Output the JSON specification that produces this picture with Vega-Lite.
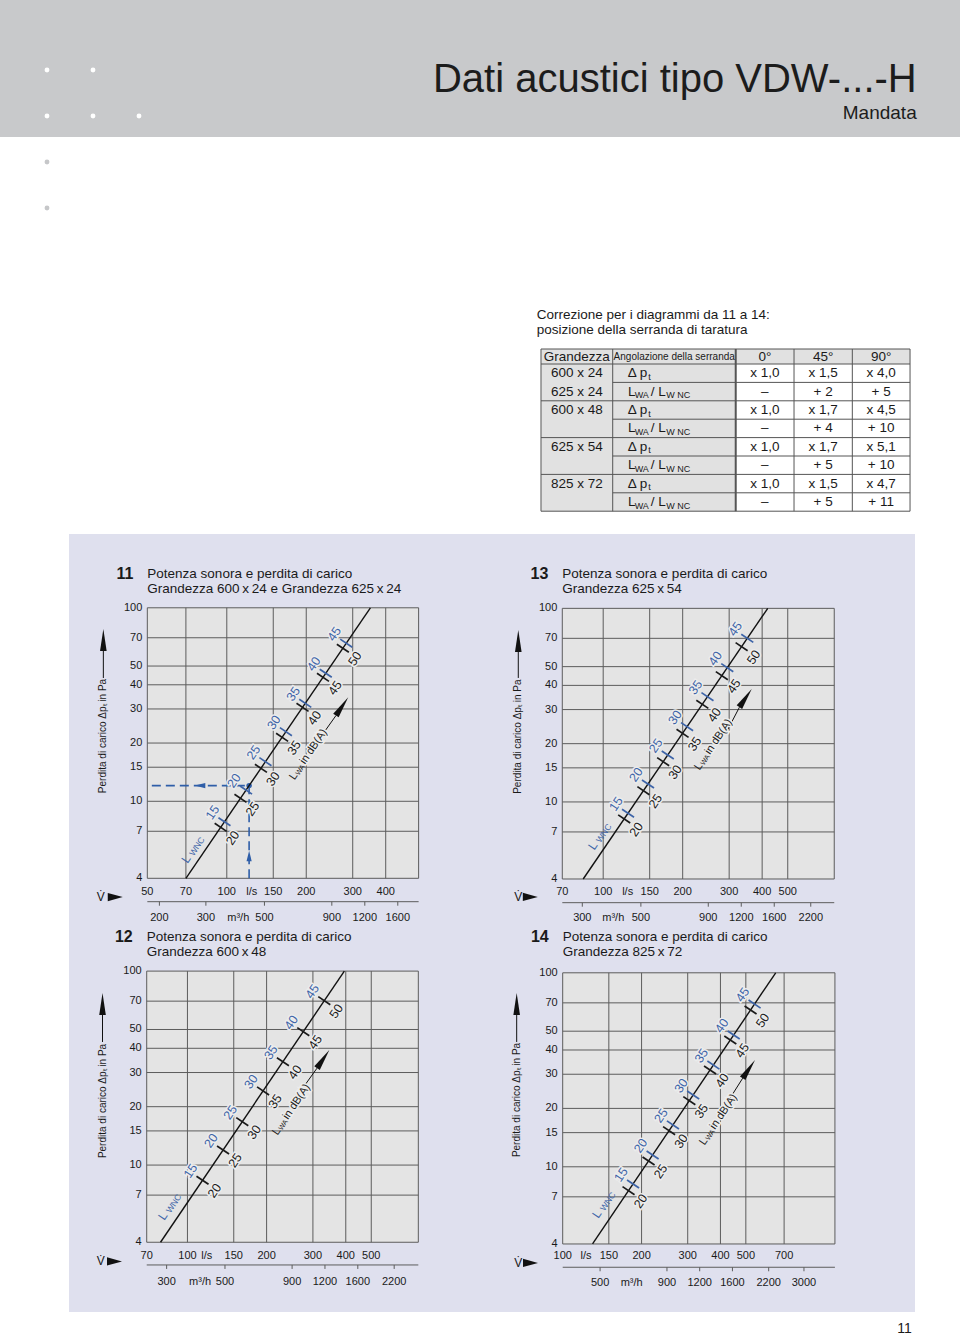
{
"$schema": "https://vega.github.io/schema/vega-lite/v6.json",
"padding": 0,
"background": "white",
"spacing": 0,
"config": {"view": {"stroke": null}, "concat": {"spacing": 0}, "text": {"font": "Liberation Sans"}},
"datasets": {
"hdr": [
{"k":"dot","c":1,"r":1},{"k":"dot","c":2,"r":1},{"k":"dot","c":1,"r":2},{"k":"dot","c":2,"r":2},{"k":"dot","c":3,"r":2},
{"k":"title","c":19.907,"r":1.4717,"t":"Dati acustici tipo VDW-...-H"},
{"k":"sub","c":19.907,"r":2.0717,"t":"Mandata"}
],
"tab": [
{"k":"fill","x":0,"x2":6.33,"y":0,"y2":0.815},
{"k":"fill","x":0,"x2":3.34,"y":0.815,"y2":8.815},
{"k":"box","x":0,"x2":6.33,"y":0,"y2":8.815},
{"k":"vl","x":1.23,"y":0,"y2":8.815},{"k":"vl2","x":3.34,"y":0,"y2":8.815},{"k":"vl","x":4.34,"y":0,"y2":8.815},{"k":"vl","x":5.34,"y":0,"y2":8.815},
{"k":"hl","y":0.815,"x":0,"x2":6.33},{"k":"hl","y":1.815,"x":1.23,"x2":6.33},{"k":"hl","y":2.815,"x":0,"x2":6.33},{"k":"hl","y":3.815,"x":1.23,"x2":6.33},
{"k":"hl","y":4.815,"x":0,"x2":6.33},{"k":"hl","y":5.815,"x":1.23,"x2":6.33},{"k":"hl","y":6.815,"x":0,"x2":6.33},{"k":"hl","y":7.815,"x":1.23,"x2":6.33},
{"k":"tc","x":0.615,"y":0.42,"t":"Grandezza"},
{"k":"ts","x":2.285,"y":0.42,"t":"Angolazione della serranda"},
{"k":"tc","x":3.84,"y":0.42,"t":"0°"},{"k":"tc","x":4.84,"y":0.42,"t":"45°"},{"k":"tc","x":5.835,"y":0.42,"t":"90°"},
{"k":"tc","x":0.615,"y":1.315,"t":"600 x 24"},{"k":"tc","x":0.615,"y":2.315,"t":"625 x 24"},{"k":"tc","x":0.615,"y":3.315,"t":"600 x 48"},{"k":"tc","x":0.615,"y":5.315,"t":"625 x 54"},{"k":"tc","x":0.615,"y":7.315,"t":"825 x 72"},
{"k":"tl","x":1.487,"y":1.315,"t":"Δ p"},{"k":"tsub","x":1.84,"y":1.315,"t":"t"},
{"k":"tl","x":1.487,"y":3.315,"t":"Δ p"},{"k":"tsub","x":1.84,"y":3.315,"t":"t"},
{"k":"tl","x":1.487,"y":5.315,"t":"Δ p"},{"k":"tsub","x":1.84,"y":5.315,"t":"t"},
{"k":"tl","x":1.487,"y":7.315,"t":"Δ p"},{"k":"tsub","x":1.84,"y":7.315,"t":"t"},
{"k":"tl","x":1.492,"y":2.315,"t":"L"},{"k":"tsub","x":1.607,"y":2.315,"t":"WA"},{"k":"tl","x":1.882,"y":2.315,"t":"/ L"},{"k":"tsub","x":2.148,"y":2.315,"t":"W NC"},
{"k":"tl","x":1.492,"y":4.315,"t":"L"},{"k":"tsub","x":1.607,"y":4.315,"t":"WA"},{"k":"tl","x":1.882,"y":4.315,"t":"/ L"},{"k":"tsub","x":2.148,"y":4.315,"t":"W NC"},
{"k":"tl","x":1.492,"y":6.315,"t":"L"},{"k":"tsub","x":1.607,"y":6.315,"t":"WA"},{"k":"tl","x":1.882,"y":6.315,"t":"/ L"},{"k":"tsub","x":2.148,"y":6.315,"t":"W NC"},
{"k":"tl","x":1.492,"y":8.315,"t":"L"},{"k":"tsub","x":1.607,"y":8.315,"t":"WA"},{"k":"tl","x":1.882,"y":8.315,"t":"/ L"},{"k":"tsub","x":2.148,"y":8.315,"t":"W NC"},
{"k":"tc","x":3.84,"y":1.315,"t":"x 1,0"},{"k":"tc","x":3.84,"y":2.315,"t":"–"},{"k":"tc","x":3.84,"y":3.315,"t":"x 1,0"},{"k":"tc","x":3.84,"y":4.315,"t":"–"},
{"k":"tc","x":3.84,"y":5.315,"t":"x 1,0"},{"k":"tc","x":3.84,"y":6.315,"t":"–"},{"k":"tc","x":3.84,"y":7.315,"t":"x 1,0"},{"k":"tc","x":3.84,"y":8.315,"t":"–"},
{"k":"tc","x":4.84,"y":1.315,"t":"x 1,5"},{"k":"tc","x":4.84,"y":2.315,"t":"+ 2"},{"k":"tc","x":4.84,"y":3.315,"t":"x 1,7"},{"k":"tc","x":4.84,"y":4.315,"t":"+ 4"},
{"k":"tc","x":4.84,"y":5.315,"t":"x 1,7"},{"k":"tc","x":4.84,"y":6.315,"t":"+ 5"},{"k":"tc","x":4.84,"y":7.315,"t":"x 1,5"},{"k":"tc","x":4.84,"y":8.315,"t":"+ 5"},
{"k":"tc","x":5.835,"y":1.315,"t":"x 4,0"},{"k":"tc","x":5.835,"y":2.315,"t":"+ 5"},{"k":"tc","x":5.835,"y":3.315,"t":"x 4,5"},{"k":"tc","x":5.835,"y":4.315,"t":"+ 10"},
{"k":"tc","x":5.835,"y":5.315,"t":"x 5,1"},{"k":"tc","x":5.835,"y":6.315,"t":"+ 10"},{"k":"tc","x":5.835,"y":7.315,"t":"x 4,7"},{"k":"tc","x":5.835,"y":8.315,"t":"+ 11"},
{"k":"tt","x":-0.074,"y":-1.848,"t":"Correzione per i diagrammi da 11 a 14:"},
{"k":"tt","x":-0.074,"y":-1.06,"t":"posizione della serranda di taratura"}
],
"c11": [
{"k":"grid","x":50,"x2":533,"y":4,"y2":100},
{"k":"gx","x":70,"y":4,"y2":100},{"k":"gx","x":100,"y":4,"y2":100},{"k":"gx","x":150,"y":4,"y2":100},{"k":"gx","x":200,"y":4,"y2":100},{"k":"gx","x":300,"y":4,"y2":100},{"k":"gx","x":400,"y":4,"y2":100},
{"k":"gy","x":50,"x2":533,"y":7},{"k":"gy","x":50,"x2":533,"y":10},{"k":"gy","x":50,"x2":533,"y":15},{"k":"gy","x":50,"x2":533,"y":20},{"k":"gy","x":50,"x2":533,"y":30},{"k":"gy","x":50,"x2":533,"y":40},{"k":"gy","x":50,"x2":533,"y":50},{"k":"gy","x":50,"x2":533,"y":70},
{"k":"yl","x":50,"y":100,"t":"100"},{"k":"yl","x":50,"y":70,"t":"70"},{"k":"yl","x":50,"y":50,"t":"50"},{"k":"yl","x":50,"y":40,"t":"40"},{"k":"yl","x":50,"y":30,"t":"30"},{"k":"yl","x":50,"y":20,"t":"20"},{"k":"yl","x":50,"y":15,"t":"15"},{"k":"yl","x":50,"y":10,"t":"10"},{"k":"yl","x":50,"y":7,"t":"7"},{"k":"yl","x":50,"y":4,"t":"4"},
{"k":"xl","x":50,"y":3.41,"t":"50"},{"k":"xl","x":70,"y":3.41,"t":"70"},{"k":"xl","x":100,"y":3.41,"t":"100"},{"k":"xl","x":124.3,"y":3.41,"t":"l/s"},{"k":"xl","x":150,"y":3.41,"t":"150"},{"k":"xl","x":200,"y":3.41,"t":"200"},{"k":"xl","x":300,"y":3.41,"t":"300"},{"k":"xl","x":400,"y":3.41,"t":"400"},
{"k":"line","x":70,"y":4},{"k":"line","x":350,"y":100},
{"k":"tick","s":"LWA","x":94.8,"y":7.34,"t":"20"},
{"k":"tick","s":"LWA","x":112.7,"y":10.36,"t":"25"},
{"k":"tick","s":"LWA","x":134.7,"y":14.81,"t":"30"},
{"k":"tick","s":"LWA","x":162.0,"y":21.42,"t":"35"},
{"k":"tick","s":"LWA","x":193.6,"y":30.6,"t":"40"},
{"k":"tick","s":"LWA","x":231.4,"y":43.7,"t":"45"},
{"k":"tick","s":"LWA","x":275.2,"y":61.8,"t":"50"},
{"k":"tick","s":"LWNC","x":98.0,"y":7.84,"tb":"15"},
{"k":"tick","s":"LWNC","x":118.3,"y":11.43,"tb":"20"},
{"k":"tick","s":"LWNC","x":140.1,"y":16.02,"tb":"25"},
{"k":"tick","s":"LWNC","x":167.5,"y":22.89,"tb":"30"},
{"k":"tick","s":"LWNC","x":198.3,"y":32.1,"tb":"35"},
{"k":"tick","s":"LWNC","x":237.1,"y":45.9,"tb":"40"},
{"k":"tick","s":"LWNC","x":283.5,"y":65.6,"tb":"45"},
{"k":"ttl","x":50,"y":149.5,"t":"Potenza sonora e perdita di carico"},
{"k":"ttl","x":50,"y":125.0,"t":"Grandezza 600\u2009x\u200924 e Grandezza 625\u2009x\u200924"},
{"k":"num","x":50,"y":149.5,"t":"11"},
{"k":"ytl","x":34.07,"y":21.75,"t":"Perdita di carico \u0394p\u209c in Pa"},
{"k":"arr","x":34.07,"y":43.37,"x2":34.07,"y2":59.8},
{"k":"headv","x":34.07,"y":68.2},
{"k":"vdot","x":33.3,"y":3.2,"t":"V\u0307"},
{"k":"vtri","x":37.79,"y":3.2},
{"k":"lwnc","x":71.7,"y":5.28},
{"k":"lwa","x":176.6,"y":13.05},
{"k":"arr","x":232.1,"y":22.45,"x2":259.3,"y2":27.76},
{"k":"headd","x":273.4,"y":30.94},
{"k":"dash","x":52,"y":12.05,"x2":121.5,"y2":12.05},
{"k":"dash","x":121.5,"y":4,"x2":121.5,"y2":12.05},
{"k":"dot","x":121.5,"y":12.05},
{"k":"dheadl","x":79.2,"y":12.05},
{"k":"dheadu","x":121.5,"y":5.22},
{"k":"mline","m":180,"m2":1919,"y":3.028},
{"k":"mt","m":200,"y":3.028,"y2":2.887},{"k":"mt","m":300,"y":3.028,"y2":2.887},{"k":"mt","m":500,"y":3.028,"y2":2.887},{"k":"mt","m":900,"y":3.028,"y2":2.887},{"k":"mt","m":1200,"y":3.028,"y2":2.887},{"k":"mt","m":1600,"y":3.028,"y2":2.887},
{"k":"ml","m":200,"y":2.486,"t":"200"},{"k":"ml","m":300,"y":2.486,"t":"300"},{"k":"ml","m":398,"y":2.486,"t":"m\u00b3/h"},{"k":"ml","m":500,"y":2.486,"t":"500"},{"k":"ml","m":900,"y":2.486,"t":"900"},{"k":"ml","m":1200,"y":2.486,"t":"1200"},{"k":"ml","m":1600,"y":2.486,"t":"1600"}
],
"c13": [
{"k":"grid","x":70,"x2":750,"y":4,"y2":100},
{"k":"gx","x":100,"y":4,"y2":100},{"k":"gx","x":150,"y":4,"y2":100},{"k":"gx","x":200,"y":4,"y2":100},{"k":"gx","x":300,"y":4,"y2":100},{"k":"gx","x":400,"y":4,"y2":100},{"k":"gx","x":500,"y":4,"y2":100},
{"k":"gy","x":70,"x2":750,"y":7},{"k":"gy","x":70,"x2":750,"y":10},{"k":"gy","x":70,"x2":750,"y":15},{"k":"gy","x":70,"x2":750,"y":20},{"k":"gy","x":70,"x2":750,"y":30},{"k":"gy","x":70,"x2":750,"y":40},{"k":"gy","x":70,"x2":750,"y":50},{"k":"gy","x":70,"x2":750,"y":70},
{"k":"yl","x":70,"y":100,"t":"100"},{"k":"yl","x":70,"y":70,"t":"70"},{"k":"yl","x":70,"y":50,"t":"50"},{"k":"yl","x":70,"y":40,"t":"40"},{"k":"yl","x":70,"y":30,"t":"30"},{"k":"yl","x":70,"y":20,"t":"20"},{"k":"yl","x":70,"y":15,"t":"15"},{"k":"yl","x":70,"y":10,"t":"10"},{"k":"yl","x":70,"y":7,"t":"7"},{"k":"yl","x":70,"y":4,"t":"4"},
{"k":"xl","x":70,"y":3.439,"t":"70"},{"k":"xl","x":100,"y":3.439,"t":"100"},{"k":"xl","x":123.8,"y":3.439,"t":"l/s"},{"k":"xl","x":150,"y":3.439,"t":"150"},{"k":"xl","x":200,"y":3.439,"t":"200"},{"k":"xl","x":300,"y":3.439,"t":"300"},{"k":"xl","x":400,"y":3.439,"t":"400"},{"k":"xl","x":500,"y":3.439,"t":"500"},
{"k":"line","x":84,"y":4},{"k":"line","x":420,"y":100},
{"k":"tick","s":"LWA","x":120.1,"y":8.17,"t":"20"},
{"k":"tick","s":"LWA","x":142.0,"y":11.43,"t":"25"},
{"k":"tick","s":"LWA","x":168.7,"y":16.14,"t":"30"},
{"k":"tick","s":"LWA","x":199.8,"y":22.62,"t":"35"},
{"k":"tick","s":"LWA","x":237.4,"y":31.94,"t":"40"},
{"k":"tick","s":"LWA","x":281.4,"y":44.9,"t":"45"},
{"k":"tick","s":"LWA","x":334.4,"y":63.4,"t":"50"},
{"k":"tick","s":"LWNC","x":124.2,"y":8.74,"tb":"15"},
{"k":"tick","s":"LWNC","x":147.8,"y":12.38,"tb":"20"},
{"k":"tick","s":"LWNC","x":175.6,"y":17.48,"tb":"25"},
{"k":"tick","s":"LWNC","x":207.8,"y":24.47,"tb":"30"},
{"k":"tick","s":"LWNC","x":248.3,"y":34.96,"tb":"35"},
{"k":"tick","s":"LWNC","x":295.1,"y":49.37,"tb":"40"},
{"k":"tick","s":"LWNC","x":351.4,"y":70.0,"tb":"45"},
{"k":"ttl","x":70,"y":149.6,"t":"Potenza sonora e perdita di carico"},
{"k":"ttl","x":70,"y":125.9,"t":"Grandezza 625\u2009x\u200954"},
{"k":"num","x":70,"y":149.6,"t":"13"},
{"k":"ytl","x":47.69,"y":21.73,"t":"Perdita di carico \u0394p\u209c in Pa"},
{"k":"arr","x":47.69,"y":43.7,"x2":47.69,"y2":60.2},
{"k":"headv","x":47.69,"y":67.8},
{"k":"vdot","x":47.69,"y":3.23,"t":"V\u0307"},
{"k":"vtri","x":52.96,"y":3.23},
{"k":"lwnc","x":93.5,"y":6.23},
{"k":"lwa","x":226.6,"y":14.8},
{"k":"arr","x":293.6,"y":23.07,"x2":328.2,"y2":30.87},
{"k":"headd","x":346.1,"y":34.39},
{"k":"mline","m":252,"m2":2700,"y":3.018},
{"k":"mt","m":300,"y":3.018,"y2":2.877},{"k":"mt","m":500,"y":3.018,"y2":2.877},{"k":"mt","m":900,"y":3.018,"y2":2.877},{"k":"mt","m":1200,"y":3.018,"y2":2.877},{"k":"mt","m":1600,"y":3.018,"y2":2.877},{"k":"mt","m":2200,"y":3.018,"y2":2.877},
{"k":"ml","m":300,"y":2.506,"t":"300"},{"k":"ml","m":393,"y":2.506,"t":"m\u00b3/h"},{"k":"ml","m":500,"y":2.506,"t":"500"},{"k":"ml","m":900,"y":2.506,"t":"900"},{"k":"ml","m":1200,"y":2.506,"t":"1200"},{"k":"ml","m":1600,"y":2.506,"t":"1600"},{"k":"ml","m":2200,"y":2.506,"t":"2200"}
],
"c12": [
{"k":"grid","x":70,"x2":755,"y":4,"y2":100},
{"k":"gx","x":100,"y":4,"y2":100},{"k":"gx","x":150,"y":4,"y2":100},{"k":"gx","x":200,"y":4,"y2":100},{"k":"gx","x":300,"y":4,"y2":100},{"k":"gx","x":400,"y":4,"y2":100},{"k":"gx","x":500,"y":4,"y2":100},
{"k":"gy","x":70,"x2":755,"y":7},{"k":"gy","x":70,"x2":755,"y":10},{"k":"gy","x":70,"x2":755,"y":15},{"k":"gy","x":70,"x2":755,"y":20},{"k":"gy","x":70,"x2":755,"y":30},{"k":"gy","x":70,"x2":755,"y":40},{"k":"gy","x":70,"x2":755,"y":50},{"k":"gy","x":70,"x2":755,"y":70},
{"k":"yl","x":70,"y":100,"t":"100"},{"k":"yl","x":70,"y":70,"t":"70"},{"k":"yl","x":70,"y":50,"t":"50"},{"k":"yl","x":70,"y":40,"t":"40"},{"k":"yl","x":70,"y":30,"t":"30"},{"k":"yl","x":70,"y":20,"t":"20"},{"k":"yl","x":70,"y":15,"t":"15"},{"k":"yl","x":70,"y":10,"t":"10"},{"k":"yl","x":70,"y":7,"t":"7"},{"k":"yl","x":70,"y":4,"t":"4"},
{"k":"xl","x":70,"y":3.411,"t":"70"},{"k":"xl","x":100,"y":3.411,"t":"100"},{"k":"xl","x":118.4,"y":3.411,"t":"l/s"},{"k":"xl","x":150,"y":3.411,"t":"150"},{"k":"xl","x":200,"y":3.411,"t":"200"},{"k":"xl","x":300,"y":3.411,"t":"300"},{"k":"xl","x":400,"y":3.411,"t":"400"},{"k":"xl","x":500,"y":3.411,"t":"500"},
{"k":"line","x":79,"y":4},{"k":"line","x":395,"y":100},
{"k":"tick","s":"LWA","x":114.1,"y":8.35,"t":"20","tb":"15"},
{"k":"tick","s":"LWA","x":136.6,"y":11.96,"t":"25","tb":"20"},
{"k":"tick","s":"LWA","x":161.6,"y":16.73,"t":"30","tb":"25"},
{"k":"tick","s":"LWA","x":193.9,"y":24.1,"t":"35","tb":"30"},
{"k":"tick","s":"LWA","x":230.7,"y":34.1,"t":"40","tb":"35"},
{"k":"tick","s":"LWA","x":275.7,"y":48.7,"t":"45","tb":"40"},
{"k":"tick","s":"LWA","x":331.4,"y":70.4,"t":"50","tb":"45"},
{"k":"ttl","x":70,"y":150.4,"t":"Potenza sonora e perdita di carico"},
{"k":"ttl","x":70,"y":125.4,"t":"Grandezza 600\u2009x\u200948"},
{"k":"num","x":70,"y":150.4,"t":"12"},
{"k":"ytl","x":47.54,"y":21.4,"t":"Perdita di carico \u0394p\u209c in Pa"},
{"k":"arr","x":47.54,"y":43.1,"x2":47.54,"y2":59.4},
{"k":"headv","x":47.54,"y":67.7},
{"k":"vdot","x":46.8,"y":3.184,"t":"V\u0307"},
{"k":"vtri","x":52.8,"y":3.184},
{"k":"lwnc","x":82.5,"y":5.73},
{"k":"lwa","x":215.2,"y":14.46},
{"k":"arr","x":279.9,"y":25.88,"x2":310.9,"y2":31.58},
{"k":"headd","x":328.2,"y":35.19},
{"k":"mline","m":252,"m2":2718,"y":3.055},
{"k":"mt","m":300,"y":3.055,"y2":2.914},{"k":"mt","m":500,"y":3.055,"y2":2.914},{"k":"mt","m":900,"y":3.055,"y2":2.914},{"k":"mt","m":1200,"y":3.055,"y2":2.914},{"k":"mt","m":1600,"y":3.055,"y2":2.914},{"k":"mt","m":2200,"y":3.055,"y2":2.914},
{"k":"ml","m":300,"y":2.489,"t":"300"},{"k":"ml","m":402,"y":2.489,"t":"m\u00b3/h"},{"k":"ml","m":500,"y":2.489,"t":"500"},{"k":"ml","m":900,"y":2.489,"t":"900"},{"k":"ml","m":1200,"y":2.489,"t":"1200"},{"k":"ml","m":1600,"y":2.489,"t":"1600"},{"k":"ml","m":2200,"y":2.489,"t":"2200"}
],
"c14": [
{"k":"grid","x":100,"x2":1094,"y":4,"y2":100},
{"k":"gx","x":150,"y":4,"y2":100},{"k":"gx","x":200,"y":4,"y2":100},{"k":"gx","x":300,"y":4,"y2":100},{"k":"gx","x":400,"y":4,"y2":100},{"k":"gx","x":500,"y":4,"y2":100},{"k":"gx","x":700,"y":4,"y2":100},
{"k":"gy","x":100,"x2":1094,"y":7},{"k":"gy","x":100,"x2":1094,"y":10},{"k":"gy","x":100,"x2":1094,"y":15},{"k":"gy","x":100,"x2":1094,"y":20},{"k":"gy","x":100,"x2":1094,"y":30},{"k":"gy","x":100,"x2":1094,"y":40},{"k":"gy","x":100,"x2":1094,"y":50},{"k":"gy","x":100,"x2":1094,"y":70},
{"k":"yl","x":100,"y":100,"t":"100"},{"k":"yl","x":100,"y":70,"t":"70"},{"k":"yl","x":100,"y":50,"t":"50"},{"k":"yl","x":100,"y":40,"t":"40"},{"k":"yl","x":100,"y":30,"t":"30"},{"k":"yl","x":100,"y":20,"t":"20"},{"k":"yl","x":100,"y":15,"t":"15"},{"k":"yl","x":100,"y":10,"t":"10"},{"k":"yl","x":100,"y":7,"t":"7"},{"k":"yl","x":100,"y":4,"t":"4"},
{"k":"xl","x":100,"y":3.469,"t":"100"},{"k":"xl","x":122.7,"y":3.469,"t":"l/s"},{"k":"xl","x":150,"y":3.469,"t":"150"},{"k":"xl","x":200,"y":3.469,"t":"200"},{"k":"xl","x":300,"y":3.469,"t":"300"},{"k":"xl","x":400,"y":3.469,"t":"400"},{"k":"xl","x":500,"y":3.469,"t":"500"},{"k":"xl","x":700,"y":3.469,"t":"700"},
{"k":"line","x":130,"y":4},{"k":"line","x":650,"y":100},
{"k":"tick","s":"LWA","x":178.4,"y":7.53,"t":"20"},
{"k":"tick","s":"LWA","x":212.7,"y":10.71,"t":"25"},
{"k":"tick","s":"LWA","x":254.7,"y":15.35,"t":"30"},
{"k":"tick","s":"LWA","x":304.3,"y":21.92,"t":"35"},
{"k":"tick","s":"LWA","x":365.1,"y":31.54,"t":"40"},
{"k":"tick","s":"LWA","x":436.2,"y":45.03,"t":"45"},
{"k":"tick","s":"LWA","x":521.2,"y":64.3,"t":"50"},
{"k":"tick","s":"LWNC","x":185.6,"y":8.15,"tb":"15"},
{"k":"tick","s":"LWNC","x":220.4,"y":11.5,"tb":"20"},
{"k":"tick","s":"LWNC","x":263.5,"y":16.43,"tb":"25"},
{"k":"tick","s":"LWNC","x":314.8,"y":23.45,"tb":"30"},
{"k":"tick","s":"LWNC","x":376.0,"y":33.46,"tb":"35"},
{"k":"tick","s":"LWNC","x":449.4,"y":47.8,"tb":"40"},
{"k":"tick","s":"LWNC","x":539.9,"y":69.0,"tb":"45"},
{"k":"ttl","x":100,"y":153.5,"t":"Potenza sonora e perdita di carico"},
{"k":"ttl","x":100,"y":128.0,"t":"Grandezza 825\u2009x\u200972"},
{"k":"num","x":100,"y":153.5,"t":"14"},
{"k":"ytl","x":66.74,"y":22.1,"t":"Perdita di carico \u0394p\u209c in Pa"},
{"k":"arr","x":66.74,"y":44.0,"x2":66.74,"y2":60.6},
{"k":"headv","x":66.74,"y":69.1},
{"k":"vdot","x":67.7,"y":3.192,"t":"V\u0307"},
{"k":"vtri","x":75.36,"y":3.192},
{"k":"lwnc","x":138.2,"y":5.99},
{"k":"lwa","x":340.1,"y":13.11},
{"k":"arr","x":435.0,"y":22.55,"x2":486.4,"y2":28.62},
{"k":"headd","x":513.4,"y":31.88},
{"k":"mline","m":360,"m2":3938,"y":3.034},
{"k":"mt","m":500,"y":3.034,"y2":2.893},{"k":"mt","m":900,"y":3.034,"y2":2.893},{"k":"mt","m":1200,"y":3.034,"y2":2.893},{"k":"mt","m":1600,"y":3.034,"y2":2.893},{"k":"mt","m":2200,"y":3.034,"y2":2.893},{"k":"mt","m":3000,"y":3.034,"y2":2.893},
{"k":"ml","m":500,"y":2.527,"t":"500"},{"k":"ml","m":660,"y":2.527,"t":"m\u00b3/h"},{"k":"ml","m":900,"y":2.527,"t":"900"},{"k":"ml","m":1200,"y":2.527,"t":"1200"},{"k":"ml","m":1600,"y":2.527,"t":"1600"},{"k":"ml","m":2200,"y":2.527,"t":"2200"},{"k":"ml","m":3000,"y":2.527,"t":"3000"}
]
},
"vconcat": [
{
"width": 960, "height": 137,
"view": {"fill": "#c8c9cb", "stroke": null},
"data": {"name": "hdr"},
"encoding": {
"x": {"field": "c", "type": "quantitative", "scale": {"domain": [-0.0217, 20.848], "nice": false, "zero": false}, "axis": null},
"y": {"field": "r", "type": "quantitative", "scale": {"domain": [-0.5217, 2.4565], "reverse": true, "nice": false, "zero": false}, "axis": null}
},
"layer": [
{"transform": [{"filter": "datum.k=='dot'"}], "mark": {"type": "circle", "size": 24, "color": "#ffffff", "opacity": 1}},
{"transform": [{"filter": "datum.k=='title'"}], "mark": {"type": "text", "align": "right", "baseline": "alphabetic", "fontSize": 40, "color": "#1c1c1c"}, "encoding": {"text": {"field": "t"}}},
{"transform": [{"filter": "datum.k=='sub'"}], "mark": {"type": "text", "align": "right", "baseline": "alphabetic", "fontSize": 19, "color": "#1c1c1c"}, "encoding": {"text": {"field": "t"}}}
]
},
{
"hconcat": [
{
"width": 535, "height": 397,
"view": {"fill": "#ffffff", "stroke": null},
"data": {"values": [{"c": 1, "r": 3}, {"c": 1, "r": 4}]},
"mark": {"type": "circle", "size": 24, "color": "#c6c7c9", "opacity": 1},
"encoding": {
"x": {"field": "c", "type": "quantitative", "scale": {"domain": [-0.0217, 11.609], "nice": false, "zero": false}, "axis": null},
"y": {"field": "r", "type": "quantitative", "scale": {"domain": [2.4565, 11.087], "reverse": true, "nice": false, "zero": false}, "axis": null}
}
},
{
"width": 380, "height": 397,
"view": {"fill": "#ffffff", "stroke": null},
"data": {"name": "tab"},
"encoding": {
"x": {"field": "x", "type": "quantitative", "scale": {"domain": [-0.1029, 6.415], "nice": false, "zero": false}, "axis": null},
"y": {"field": "y", "type": "quantitative", "scale": {"domain": [-11.522, 10.054], "reverse": true, "nice": false, "zero": false}, "axis": null}
},
"layer": [
{"transform": [{"filter": "datum.k=='fill'"}], "mark": {"type": "rect", "color": "#e1e1e1"}, "encoding": {"x2": {"field": "x2"}, "y2": {"field": "y2"}}},
{"transform": [{"filter": "datum.k=='hl'"}], "mark": {"type": "rule", "color": "#555555", "strokeWidth": 1}, "encoding": {"x2": {"field": "x2"}}},
{"transform": [{"filter": "datum.k=='vl'"}], "mark": {"type": "rule", "color": "#555555", "strokeWidth": 1}, "encoding": {"y2": {"field": "y2"}}},
{"transform": [{"filter": "datum.k=='vl2'"}], "mark": {"type": "rule", "color": "#555555", "strokeWidth": 2}, "encoding": {"y2": {"field": "y2"}}},
{"transform": [{"filter": "datum.k=='box'"}], "mark": {"type": "rect", "fillOpacity": 0, "stroke": "#555555", "strokeWidth": 1}, "encoding": {"x2": {"field": "x2"}, "y2": {"field": "y2"}}},
{"transform": [{"filter": "datum.k=='tc'"}], "mark": {"type": "text", "align": "center", "baseline": "middle", "fontSize": 13.5, "color": "#1a1a1a"}, "encoding": {"text": {"field": "t"}}},
{"transform": [{"filter": "datum.k=='ts'"}], "mark": {"type": "text", "align": "center", "baseline": "middle", "fontSize": 10, "color": "#1a1a1a"}, "encoding": {"text": {"field": "t"}}},
{"transform": [{"filter": "datum.k=='tl'"}], "mark": {"type": "text", "align": "left", "baseline": "middle", "fontSize": 13.5, "color": "#1a1a1a"}, "encoding": {"text": {"field": "t"}}},
{"transform": [{"filter": "datum.k=='tsub'"}], "mark": {"type": "text", "align": "left", "baseline": "middle", "fontSize": 9, "dy": 3.5, "color": "#1a1a1a"}, "encoding": {"text": {"field": "t"}}},
{"transform": [{"filter": "datum.k=='tt'"}], "mark": {"type": "text", "align": "left", "baseline": "middle", "fontSize": 13.5, "color": "#1a1a1a"}, "encoding": {"text": {"field": "t"}}}
]
},
{"width": 45, "height": 397, "view": {"fill": "#ffffff", "stroke": null}, "data": {"values": []}, "mark": "point"}
],
"spacing": 0, "bounds": "flush"
},
{
"hconcat": [
{"width": 69, "height": 392, "view": {"fill": "#ffffff", "stroke": null}, "data": {"values": []}, "mark": "point"},
{
"width": 422, "height": 392,
"view": {"fill": "#dfe0ee", "stroke": null},
"data": {"name": "c11"},
"resolve": {"scale": {"x": "independent"}},
"layer": [
{
"encoding": {
"x": {"field": "x", "type": "quantitative", "scale": {"type": "log", "domain": [25.25, 1002.2], "nice": false}, "axis": null},
"y": {"field": "y", "type": "quantitative", "scale": {"type": "log", "domain": [2.2676, 240.6], "nice": false}, "axis": null}
},
"layer": [
{"transform": [{"filter": "datum.k=='grid'"}], "mark": {"type": "rect", "fill": "#e4e4e4", "stroke": "#5c5c5c", "strokeWidth": 1}, "encoding": {"x2": {"field": "x2"}, "y2": {"field": "y2"}}},
{"transform": [{"filter": "datum.k=='gx'"}], "mark": {"type": "rule", "color": "#5c5c5c", "strokeWidth": 1}, "encoding": {"y2": {"field": "y2"}}},
{"transform": [{"filter": "datum.k=='gy'"}], "mark": {"type": "rule", "color": "#5c5c5c", "strokeWidth": 1}, "encoding": {"x2": {"field": "x2"}}},
{"transform": [{"filter": "datum.k=='dash'"}], "mark": {"type": "rule", "color": "#2f5ea8", "strokeWidth": 1.6, "strokeDash": [9, 5]}, "encoding": {"x2": {"field": "x2"}, "y2": {"field": "y2"}}},
{"transform": [{"filter": "datum.k=='dheadl'"}], "mark": {"type": "point", "shape": "M -1 0 L 1 -0.5 L 1 0.5 Z", "size": 110, "filled": true, "color": "#2f5ea8", "opacity": 1}},
{"transform": [{"filter": "datum.k=='dheadu'"}], "mark": {"type": "point", "shape": "M 0 -1 L 0.5 1 L -0.5 1 Z", "size": 110, "filled": true, "color": "#2f5ea8", "opacity": 1}},
{"transform": [{"filter": "datum.k=='dot'"}], "mark": {"type": "circle", "size": 30, "color": "#2f5ea8", "opacity": 1}},
{"transform": [{"filter": "datum.k=='line'"}], "mark": {"type": "line", "color": "#111111", "strokeWidth": 1.4}},
{"transform": [{"filter": "datum.k=='tick'"}], "mark": {"type": "point", "shape": "M -1 0 L 1 0", "angle": 34, "size": 210, "strokeWidth": 1.7, "filled": false, "opacity": 1}, "encoding": {"color": {"field": "s", "type": "nominal", "scale": {"domain": ["LWA", "LWNC"], "range": ["#1a1a1a", "#3d64a8"]}, "legend": null}}},
{"transform": [{"filter": "datum.k=='tick' && isValid(datum.t)"}], "mark": {"type": "text", "angle": -56, "dx": -2, "dy": 16, "fontSize": 12.5, "color": "#ececec", "stroke": "#ececec", "strokeWidth": 3}, "encoding": {"text": {"field": "t"}}},
{"transform": [{"filter": "datum.k=='tick' && isValid(datum.t)"}], "mark": {"type": "text", "angle": -56, "dx": -2, "dy": 16, "fontSize": 12.5, "color": "#1a1a1a"}, "encoding": {"text": {"field": "t"}}},
{"transform": [{"filter": "datum.k=='tick' && isValid(datum.tb)"}], "mark": {"type": "text", "angle": -56, "dx": 1, "dy": -15, "fontSize": 12.5, "color": "#ececec", "stroke": "#ececec", "strokeWidth": 3}, "encoding": {"text": {"field": "tb"}}},
{"transform": [{"filter": "datum.k=='tick' && isValid(datum.tb)"}], "mark": {"type": "text", "angle": -56, "dx": 1, "dy": -15, "fontSize": 12.5, "color": "#3d64a8"}, "encoding": {"text": {"field": "tb"}}},
{"transform": [{"filter": "datum.k=='yl'"}], "mark": {"type": "text", "align": "right", "dx": -5, "fontSize": 11, "color": "#1a1a1a"}, "encoding": {"text": {"field": "t"}}},
{"transform": [{"filter": "datum.k=='xl'"}], "mark": {"type": "text", "align": "center", "fontSize": 11, "color": "#1a1a1a"}, "encoding": {"text": {"field": "t"}}},
{"transform": [{"filter": "datum.k=='ttl'"}], "mark": {"type": "text", "align": "left", "fontSize": 13.5, "color": "#1a1a1a"}, "encoding": {"text": {"field": "t"}}},
{"transform": [{"filter": "datum.k=='num'"}], "mark": {"type": "text", "align": "right", "dx": -14, "fontSize": 16, "fontWeight": "bold", "color": "#1a1a1a"}, "encoding": {"text": {"field": "t"}}},
{"transform": [{"filter": "datum.k=='ytl'"}], "mark": {"type": "text", "align": "center", "angle": -90, "fontSize": 10, "color": "#1a1a1a"}, "encoding": {"text": {"field": "t"}}},
{"transform": [{"filter": "datum.k=='arr'"}], "mark": {"type": "rule", "color": "#111111", "strokeWidth": 1}, "encoding": {"x2": {"field": "x2"}, "y2": {"field": "y2"}}},
{"transform": [{"filter": "datum.k=='headv'"}], "mark": {"type": "point", "shape": "M 0 -1 L 0.3 1 L -0.3 1 Z", "size": 484, "filled": true, "color": "#111111", "opacity": 1}},
{"transform": [{"filter": "datum.k=='headd'"}], "mark": {"type": "point", "shape": "M 0 -1 L 0.3 1 L -0.3 1 Z", "angle": 34, "size": 484, "filled": true, "color": "#111111", "opacity": 1}},
{"transform": [{"filter": "datum.k=='vdot'"}], "mark": {"type": "text", "align": "center", "fontSize": 12, "color": "#1a1a1a"}, "encoding": {"text": {"field": "t"}}},
{"transform": [{"filter": "datum.k=='vtri'"}], "mark": {"type": "point", "shape": "M -1 -0.55 L 1 0 L -1 0.55 Z", "size": 225, "filled": true, "color": "#111111", "opacity": 1}},
{"transform": [{"filter": "datum.k=='lwnc'"}], "mark": {"type": "text", "text": "L", "align": "right", "dx": -1.5, "angle": -56, "fontSize": 12, "color": "#3d64a8"}},
{"transform": [{"filter": "datum.k=='lwnc'"}], "mark": {"type": "text", "text": "WNC", "align": "left", "dx": 1.5, "dy": 2, "angle": -56, "fontSize": 8.5, "color": "#3d64a8"}},
{"transform": [{"filter": "datum.k=='lwa'"}], "mark": {"type": "text", "text": "in dB(A)", "align": "left", "dx": 19, "angle": -56, "fontSize": 11, "color": "#ececec", "stroke": "#ececec", "strokeWidth": 3}},
{"transform": [{"filter": "datum.k=='lwa'"}], "mark": {"type": "text", "text": "L", "align": "left", "angle": -56, "fontSize": 11, "color": "#1a1a1a"}},
{"transform": [{"filter": "datum.k=='lwa'"}], "mark": {"type": "text", "text": "WA", "align": "left", "dx": 6.5, "dy": 2, "angle": -56, "fontSize": 7, "color": "#1a1a1a"}},
{"transform": [{"filter": "datum.k=='lwa'"}], "mark": {"type": "text", "text": "in dB(A)", "align": "left", "dx": 19, "angle": -56, "fontSize": 11, "color": "#1a1a1a"}}
]
},
{
"encoding": {
"x": {"field": "m", "type": "quantitative", "scale": {"type": "log", "domain": [90.9, 3607.9], "nice": false}, "axis": null},
"y": {"field": "y", "type": "quantitative", "scale": {"type": "log", "domain": [2.2676, 240.6], "nice": false}, "axis": null}
},
"layer": [
{"transform": [{"filter": "datum.k=='mline'"}], "mark": {"type": "rule", "color": "#5c5c5c", "strokeWidth": 1}, "encoding": {"x2": {"field": "m2"}}},
{"transform": [{"filter": "datum.k=='mt'"}], "mark": {"type": "rule", "color": "#5c5c5c", "strokeWidth": 1}, "encoding": {"y2": {"field": "y2"}}},
{"transform": [{"filter": "datum.k=='ml'"}], "mark": {"type": "text", "align": "center", "fontSize": 11, "color": "#1a1a1a"}, "encoding": {"text": {"field": "t"}}}
]
}
]
},
{
"width": 424, "height": 392,
"view": {"fill": "#dfe0ee", "stroke": null},
"data": {"name": "c13"},
"resolve": {"scale": {"x": "independent"}},
"layer": [
{
"encoding": {
"x": {"field": "x", "type": "quantitative", "scale": {"type": "log", "domain": [37.59, 1516.9], "nice": false}, "axis": null},
"y": {"field": "y", "type": "quantitative", "scale": {"type": "log", "domain": [2.287, 242.1], "nice": false}, "axis": null}
},
"layer": [
{"transform": [{"filter": "datum.k=='grid'"}], "mark": {"type": "rect", "fill": "#e4e4e4", "stroke": "#5c5c5c", "strokeWidth": 1}, "encoding": {"x2": {"field": "x2"}, "y2": {"field": "y2"}}},
{"transform": [{"filter": "datum.k=='gx'"}], "mark": {"type": "rule", "color": "#5c5c5c", "strokeWidth": 1}, "encoding": {"y2": {"field": "y2"}}},
{"transform": [{"filter": "datum.k=='gy'"}], "mark": {"type": "rule", "color": "#5c5c5c", "strokeWidth": 1}, "encoding": {"x2": {"field": "x2"}}},
{"transform": [{"filter": "datum.k=='line'"}], "mark": {"type": "line", "color": "#111111", "strokeWidth": 1.4}},
{"transform": [{"filter": "datum.k=='tick'"}], "mark": {"type": "point", "shape": "M -1 0 L 1 0", "angle": 34, "size": 210, "strokeWidth": 1.7, "filled": false, "opacity": 1}, "encoding": {"color": {"field": "s", "type": "nominal", "scale": {"domain": ["LWA", "LWNC"], "range": ["#1a1a1a", "#3d64a8"]}, "legend": null}}},
{"transform": [{"filter": "datum.k=='tick' && isValid(datum.t)"}], "mark": {"type": "text", "angle": -56, "dx": -2, "dy": 16, "fontSize": 12.5, "color": "#ececec", "stroke": "#ececec", "strokeWidth": 3}, "encoding": {"text": {"field": "t"}}},
{"transform": [{"filter": "datum.k=='tick' && isValid(datum.t)"}], "mark": {"type": "text", "angle": -56, "dx": -2, "dy": 16, "fontSize": 12.5, "color": "#1a1a1a"}, "encoding": {"text": {"field": "t"}}},
{"transform": [{"filter": "datum.k=='tick' && isValid(datum.tb)"}], "mark": {"type": "text", "angle": -56, "dx": 1, "dy": -15, "fontSize": 12.5, "color": "#ececec", "stroke": "#ececec", "strokeWidth": 3}, "encoding": {"text": {"field": "tb"}}},
{"transform": [{"filter": "datum.k=='tick' && isValid(datum.tb)"}], "mark": {"type": "text", "angle": -56, "dx": 1, "dy": -15, "fontSize": 12.5, "color": "#3d64a8"}, "encoding": {"text": {"field": "tb"}}},
{"transform": [{"filter": "datum.k=='yl'"}], "mark": {"type": "text", "align": "right", "dx": -5, "fontSize": 11, "color": "#1a1a1a"}, "encoding": {"text": {"field": "t"}}},
{"transform": [{"filter": "datum.k=='xl'"}], "mark": {"type": "text", "align": "center", "fontSize": 11, "color": "#1a1a1a"}, "encoding": {"text": {"field": "t"}}},
{"transform": [{"filter": "datum.k=='ttl'"}], "mark": {"type": "text", "align": "left", "fontSize": 13.5, "color": "#1a1a1a"}, "encoding": {"text": {"field": "t"}}},
{"transform": [{"filter": "datum.k=='num'"}], "mark": {"type": "text", "align": "right", "dx": -14, "fontSize": 16, "fontWeight": "bold", "color": "#1a1a1a"}, "encoding": {"text": {"field": "t"}}},
{"transform": [{"filter": "datum.k=='ytl'"}], "mark": {"type": "text", "align": "center", "angle": -90, "fontSize": 10, "color": "#1a1a1a"}, "encoding": {"text": {"field": "t"}}},
{"transform": [{"filter": "datum.k=='arr'"}], "mark": {"type": "rule", "color": "#111111", "strokeWidth": 1}, "encoding": {"x2": {"field": "x2"}, "y2": {"field": "y2"}}},
{"transform": [{"filter": "datum.k=='headv'"}], "mark": {"type": "point", "shape": "M 0 -1 L 0.3 1 L -0.3 1 Z", "size": 484, "filled": true, "color": "#111111", "opacity": 1}},
{"transform": [{"filter": "datum.k=='headd'"}], "mark": {"type": "point", "shape": "M 0 -1 L 0.3 1 L -0.3 1 Z", "angle": 34, "size": 484, "filled": true, "color": "#111111", "opacity": 1}},
{"transform": [{"filter": "datum.k=='vdot'"}], "mark": {"type": "text", "align": "center", "fontSize": 12, "color": "#1a1a1a"}, "encoding": {"text": {"field": "t"}}},
{"transform": [{"filter": "datum.k=='vtri'"}], "mark": {"type": "point", "shape": "M -1 -0.55 L 1 0 L -1 0.55 Z", "size": 225, "filled": true, "color": "#111111", "opacity": 1}},
{"transform": [{"filter": "datum.k=='lwnc'"}], "mark": {"type": "text", "text": "L", "align": "right", "dx": -1.5, "angle": -56, "fontSize": 12, "color": "#3d64a8"}},
{"transform": [{"filter": "datum.k=='lwnc'"}], "mark": {"type": "text", "text": "WNC", "align": "left", "dx": 1.5, "dy": 2, "angle": -56, "fontSize": 8.5, "color": "#3d64a8"}},
{"transform": [{"filter": "datum.k=='lwa'"}], "mark": {"type": "text", "text": "in dB(A)", "align": "left", "dx": 19, "angle": -56, "fontSize": 11, "color": "#ececec", "stroke": "#ececec", "strokeWidth": 3}},
{"transform": [{"filter": "datum.k=='lwa'"}], "mark": {"type": "text", "text": "L", "align": "left", "angle": -56, "fontSize": 11, "color": "#1a1a1a"}},
{"transform": [{"filter": "datum.k=='lwa'"}], "mark": {"type": "text", "text": "WA", "align": "left", "dx": 6.5, "dy": 2, "angle": -56, "fontSize": 7, "color": "#1a1a1a"}},
{"transform": [{"filter": "datum.k=='lwa'"}], "mark": {"type": "text", "text": "in dB(A)", "align": "left", "dx": 19, "angle": -56, "fontSize": 11, "color": "#1a1a1a"}}
]
},
{
"encoding": {
"x": {"field": "m", "type": "quantitative", "scale": {"type": "log", "domain": [135.3, 5460.8], "nice": false}, "axis": null},
"y": {"field": "y", "type": "quantitative", "scale": {"type": "log", "domain": [2.287, 242.1], "nice": false}, "axis": null}
},
"layer": [
{"transform": [{"filter": "datum.k=='mline'"}], "mark": {"type": "rule", "color": "#5c5c5c", "strokeWidth": 1}, "encoding": {"x2": {"field": "m2"}}},
{"transform": [{"filter": "datum.k=='mt'"}], "mark": {"type": "rule", "color": "#5c5c5c", "strokeWidth": 1}, "encoding": {"y2": {"field": "y2"}}},
{"transform": [{"filter": "datum.k=='ml'"}], "mark": {"type": "text", "align": "center", "fontSize": 11, "color": "#1a1a1a"}, "encoding": {"text": {"field": "t"}}}
]
}
]
},
{"width": 45, "height": 392, "view": {"fill": "#ffffff", "stroke": null}, "data": {"values": []}, "mark": "point"}
],
"spacing": 0, "bounds": "flush"
},
{
"hconcat": [
{"width": 69, "height": 386, "view": {"fill": "#ffffff", "stroke": null}, "data": {"values": []}, "mark": "point"},
{
"width": 422, "height": 386,
"view": {"fill": "#dfe0ee", "stroke": null},
"data": {"name": "c12"},
"resolve": {"scale": {"x": "independent"}},
"layer": [
{
"encoding": {
"x": {"field": "x", "type": "quantitative", "scale": {"type": "log", "domain": [35.45, 1426.6], "nice": false}, "axis": null},
"y": {"field": "y", "type": "quantitative", "scale": {"type": "log", "domain": [1.748, 170.8], "nice": false}, "axis": null}
},
"layer": [
{"transform": [{"filter": "datum.k=='grid'"}], "mark": {"type": "rect", "fill": "#e4e4e4", "stroke": "#5c5c5c", "strokeWidth": 1}, "encoding": {"x2": {"field": "x2"}, "y2": {"field": "y2"}}},
{"transform": [{"filter": "datum.k=='gx'"}], "mark": {"type": "rule", "color": "#5c5c5c", "strokeWidth": 1}, "encoding": {"y2": {"field": "y2"}}},
{"transform": [{"filter": "datum.k=='gy'"}], "mark": {"type": "rule", "color": "#5c5c5c", "strokeWidth": 1}, "encoding": {"x2": {"field": "x2"}}},
{"transform": [{"filter": "datum.k=='line'"}], "mark": {"type": "line", "color": "#111111", "strokeWidth": 1.4}},
{"transform": [{"filter": "datum.k=='tick'"}], "mark": {"type": "point", "shape": "M -1 0 L 1 0", "angle": 34, "size": 210, "strokeWidth": 1.7, "filled": false, "opacity": 1}, "encoding": {"color": {"field": "s", "type": "nominal", "scale": {"domain": ["LWA", "LWNC"], "range": ["#1a1a1a", "#3d64a8"]}, "legend": null}}},
{"transform": [{"filter": "datum.k=='tick' && isValid(datum.t)"}], "mark": {"type": "text", "angle": -56, "dx": -2, "dy": 16, "fontSize": 12.5, "color": "#ececec", "stroke": "#ececec", "strokeWidth": 3}, "encoding": {"text": {"field": "t"}}},
{"transform": [{"filter": "datum.k=='tick' && isValid(datum.t)"}], "mark": {"type": "text", "angle": -56, "dx": -2, "dy": 16, "fontSize": 12.5, "color": "#1a1a1a"}, "encoding": {"text": {"field": "t"}}},
{"transform": [{"filter": "datum.k=='tick' && isValid(datum.tb)"}], "mark": {"type": "text", "angle": -56, "dx": 1, "dy": -15, "fontSize": 12.5, "color": "#ececec", "stroke": "#ececec", "strokeWidth": 3}, "encoding": {"text": {"field": "tb"}}},
{"transform": [{"filter": "datum.k=='tick' && isValid(datum.tb)"}], "mark": {"type": "text", "angle": -56, "dx": 1, "dy": -15, "fontSize": 12.5, "color": "#3d64a8"}, "encoding": {"text": {"field": "tb"}}},
{"transform": [{"filter": "datum.k=='yl'"}], "mark": {"type": "text", "align": "right", "dx": -5, "fontSize": 11, "color": "#1a1a1a"}, "encoding": {"text": {"field": "t"}}},
{"transform": [{"filter": "datum.k=='xl'"}], "mark": {"type": "text", "align": "center", "fontSize": 11, "color": "#1a1a1a"}, "encoding": {"text": {"field": "t"}}},
{"transform": [{"filter": "datum.k=='ttl'"}], "mark": {"type": "text", "align": "left", "fontSize": 13.5, "color": "#1a1a1a"}, "encoding": {"text": {"field": "t"}}},
{"transform": [{"filter": "datum.k=='num'"}], "mark": {"type": "text", "align": "right", "dx": -14, "fontSize": 16, "fontWeight": "bold", "color": "#1a1a1a"}, "encoding": {"text": {"field": "t"}}},
{"transform": [{"filter": "datum.k=='ytl'"}], "mark": {"type": "text", "align": "center", "angle": -90, "fontSize": 10, "color": "#1a1a1a"}, "encoding": {"text": {"field": "t"}}},
{"transform": [{"filter": "datum.k=='arr'"}], "mark": {"type": "rule", "color": "#111111", "strokeWidth": 1}, "encoding": {"x2": {"field": "x2"}, "y2": {"field": "y2"}}},
{"transform": [{"filter": "datum.k=='headv'"}], "mark": {"type": "point", "shape": "M 0 -1 L 0.3 1 L -0.3 1 Z", "size": 484, "filled": true, "color": "#111111", "opacity": 1}},
{"transform": [{"filter": "datum.k=='headd'"}], "mark": {"type": "point", "shape": "M 0 -1 L 0.3 1 L -0.3 1 Z", "angle": 34, "size": 484, "filled": true, "color": "#111111", "opacity": 1}},
{"transform": [{"filter": "datum.k=='vdot'"}], "mark": {"type": "text", "align": "center", "fontSize": 12, "color": "#1a1a1a"}, "encoding": {"text": {"field": "t"}}},
{"transform": [{"filter": "datum.k=='vtri'"}], "mark": {"type": "point", "shape": "M -1 -0.55 L 1 0 L -1 0.55 Z", "size": 225, "filled": true, "color": "#111111", "opacity": 1}},
{"transform": [{"filter": "datum.k=='lwnc'"}], "mark": {"type": "text", "text": "L", "align": "right", "dx": -1.5, "angle": -56, "fontSize": 12, "color": "#3d64a8"}},
{"transform": [{"filter": "datum.k=='lwnc'"}], "mark": {"type": "text", "text": "WNC", "align": "left", "dx": 1.5, "dy": 2, "angle": -56, "fontSize": 8.5, "color": "#3d64a8"}},
{"transform": [{"filter": "datum.k=='lwa'"}], "mark": {"type": "text", "text": "in dB(A)", "align": "left", "dx": 19, "angle": -56, "fontSize": 11, "color": "#ececec", "stroke": "#ececec", "strokeWidth": 3}},
{"transform": [{"filter": "datum.k=='lwa'"}], "mark": {"type": "text", "text": "L", "align": "left", "angle": -56, "fontSize": 11, "color": "#1a1a1a"}},
{"transform": [{"filter": "datum.k=='lwa'"}], "mark": {"type": "text", "text": "WA", "align": "left", "dx": 6.5, "dy": 2, "angle": -56, "fontSize": 7, "color": "#1a1a1a"}},
{"transform": [{"filter": "datum.k=='lwa'"}], "mark": {"type": "text", "text": "in dB(A)", "align": "left", "dx": 19, "angle": -56, "fontSize": 11, "color": "#1a1a1a"}}
]
},
{
"encoding": {
"x": {"field": "m", "type": "quantitative", "scale": {"type": "log", "domain": [127.6, 5135.8], "nice": false}, "axis": null},
"y": {"field": "y", "type": "quantitative", "scale": {"type": "log", "domain": [1.748, 170.8], "nice": false}, "axis": null}
},
"layer": [
{"transform": [{"filter": "datum.k=='mline'"}], "mark": {"type": "rule", "color": "#5c5c5c", "strokeWidth": 1}, "encoding": {"x2": {"field": "m2"}}},
{"transform": [{"filter": "datum.k=='mt'"}], "mark": {"type": "rule", "color": "#5c5c5c", "strokeWidth": 1}, "encoding": {"y2": {"field": "y2"}}},
{"transform": [{"filter": "datum.k=='ml'"}], "mark": {"type": "text", "align": "center", "fontSize": 11, "color": "#1a1a1a"}, "encoding": {"text": {"field": "t"}}}
]
}
]
},
{
"width": 424, "height": 386,
"view": {"fill": "#dfe0ee", "stroke": null},
"data": {"name": "c14"},
"resolve": {"scale": {"x": "independent"}},
"layer": [
{
"encoding": {
"x": {"field": "x", "type": "quantitative", "scale": {"type": "log", "domain": [53.26, 2211], "nice": false}, "axis": null},
"y": {"field": "y", "type": "quantitative", "scale": {"type": "log", "domain": [1.784, 174.3], "nice": false}, "axis": null}
},
"layer": [
{"transform": [{"filter": "datum.k=='grid'"}], "mark": {"type": "rect", "fill": "#e4e4e4", "stroke": "#5c5c5c", "strokeWidth": 1}, "encoding": {"x2": {"field": "x2"}, "y2": {"field": "y2"}}},
{"transform": [{"filter": "datum.k=='gx'"}], "mark": {"type": "rule", "color": "#5c5c5c", "strokeWidth": 1}, "encoding": {"y2": {"field": "y2"}}},
{"transform": [{"filter": "datum.k=='gy'"}], "mark": {"type": "rule", "color": "#5c5c5c", "strokeWidth": 1}, "encoding": {"x2": {"field": "x2"}}},
{"transform": [{"filter": "datum.k=='line'"}], "mark": {"type": "line", "color": "#111111", "strokeWidth": 1.4}},
{"transform": [{"filter": "datum.k=='tick'"}], "mark": {"type": "point", "shape": "M -1 0 L 1 0", "angle": 34, "size": 210, "strokeWidth": 1.7, "filled": false, "opacity": 1}, "encoding": {"color": {"field": "s", "type": "nominal", "scale": {"domain": ["LWA", "LWNC"], "range": ["#1a1a1a", "#3d64a8"]}, "legend": null}}},
{"transform": [{"filter": "datum.k=='tick' && isValid(datum.t)"}], "mark": {"type": "text", "angle": -56, "dx": -2, "dy": 16, "fontSize": 12.5, "color": "#ececec", "stroke": "#ececec", "strokeWidth": 3}, "encoding": {"text": {"field": "t"}}},
{"transform": [{"filter": "datum.k=='tick' && isValid(datum.t)"}], "mark": {"type": "text", "angle": -56, "dx": -2, "dy": 16, "fontSize": 12.5, "color": "#1a1a1a"}, "encoding": {"text": {"field": "t"}}},
{"transform": [{"filter": "datum.k=='tick' && isValid(datum.tb)"}], "mark": {"type": "text", "angle": -56, "dx": 1, "dy": -15, "fontSize": 12.5, "color": "#ececec", "stroke": "#ececec", "strokeWidth": 3}, "encoding": {"text": {"field": "tb"}}},
{"transform": [{"filter": "datum.k=='tick' && isValid(datum.tb)"}], "mark": {"type": "text", "angle": -56, "dx": 1, "dy": -15, "fontSize": 12.5, "color": "#3d64a8"}, "encoding": {"text": {"field": "tb"}}},
{"transform": [{"filter": "datum.k=='yl'"}], "mark": {"type": "text", "align": "right", "dx": -5, "fontSize": 11, "color": "#1a1a1a"}, "encoding": {"text": {"field": "t"}}},
{"transform": [{"filter": "datum.k=='xl'"}], "mark": {"type": "text", "align": "center", "fontSize": 11, "color": "#1a1a1a"}, "encoding": {"text": {"field": "t"}}},
{"transform": [{"filter": "datum.k=='ttl'"}], "mark": {"type": "text", "align": "left", "fontSize": 13.5, "color": "#1a1a1a"}, "encoding": {"text": {"field": "t"}}},
{"transform": [{"filter": "datum.k=='num'"}], "mark": {"type": "text", "align": "right", "dx": -14, "fontSize": 16, "fontWeight": "bold", "color": "#1a1a1a"}, "encoding": {"text": {"field": "t"}}},
{"transform": [{"filter": "datum.k=='ytl'"}], "mark": {"type": "text", "align": "center", "angle": -90, "fontSize": 10, "color": "#1a1a1a"}, "encoding": {"text": {"field": "t"}}},
{"transform": [{"filter": "datum.k=='arr'"}], "mark": {"type": "rule", "color": "#111111", "strokeWidth": 1}, "encoding": {"x2": {"field": "x2"}, "y2": {"field": "y2"}}},
{"transform": [{"filter": "datum.k=='headv'"}], "mark": {"type": "point", "shape": "M 0 -1 L 0.3 1 L -0.3 1 Z", "size": 484, "filled": true, "color": "#111111", "opacity": 1}},
{"transform": [{"filter": "datum.k=='headd'"}], "mark": {"type": "point", "shape": "M 0 -1 L 0.3 1 L -0.3 1 Z", "angle": 34, "size": 484, "filled": true, "color": "#111111", "opacity": 1}},
{"transform": [{"filter": "datum.k=='vdot'"}], "mark": {"type": "text", "align": "center", "fontSize": 12, "color": "#1a1a1a"}, "encoding": {"text": {"field": "t"}}},
{"transform": [{"filter": "datum.k=='vtri'"}], "mark": {"type": "point", "shape": "M -1 -0.55 L 1 0 L -1 0.55 Z", "size": 225, "filled": true, "color": "#111111", "opacity": 1}},
{"transform": [{"filter": "datum.k=='lwnc'"}], "mark": {"type": "text", "text": "L", "align": "right", "dx": -1.5, "angle": -56, "fontSize": 12, "color": "#3d64a8"}},
{"transform": [{"filter": "datum.k=='lwnc'"}], "mark": {"type": "text", "text": "WNC", "align": "left", "dx": 1.5, "dy": 2, "angle": -56, "fontSize": 8.5, "color": "#3d64a8"}},
{"transform": [{"filter": "datum.k=='lwa'"}], "mark": {"type": "text", "text": "in dB(A)", "align": "left", "dx": 19, "angle": -56, "fontSize": 11, "color": "#ececec", "stroke": "#ececec", "strokeWidth": 3}},
{"transform": [{"filter": "datum.k=='lwa'"}], "mark": {"type": "text", "text": "L", "align": "left", "angle": -56, "fontSize": 11, "color": "#1a1a1a"}},
{"transform": [{"filter": "datum.k=='lwa'"}], "mark": {"type": "text", "text": "WA", "align": "left", "dx": 6.5, "dy": 2, "angle": -56, "fontSize": 7, "color": "#1a1a1a"}},
{"transform": [{"filter": "datum.k=='lwa'"}], "mark": {"type": "text", "text": "in dB(A)", "align": "left", "dx": 19, "angle": -56, "fontSize": 11, "color": "#1a1a1a"}}
]
},
{
"encoding": {
"x": {"field": "m", "type": "quantitative", "scale": {"type": "log", "domain": [191.7, 7960], "nice": false}, "axis": null},
"y": {"field": "y", "type": "quantitative", "scale": {"type": "log", "domain": [1.784, 174.3], "nice": false}, "axis": null}
},
"layer": [
{"transform": [{"filter": "datum.k=='mline'"}], "mark": {"type": "rule", "color": "#5c5c5c", "strokeWidth": 1}, "encoding": {"x2": {"field": "m2"}}},
{"transform": [{"filter": "datum.k=='mt'"}], "mark": {"type": "rule", "color": "#5c5c5c", "strokeWidth": 1}, "encoding": {"y2": {"field": "y2"}}},
{"transform": [{"filter": "datum.k=='ml'"}], "mark": {"type": "text", "align": "center", "fontSize": 11, "color": "#1a1a1a"}, "encoding": {"text": {"field": "t"}}}
]
}
]
},
{"width": 45, "height": 386, "view": {"fill": "#ffffff", "stroke": null}, "data": {"values": []}, "mark": "point"}
],
"spacing": 0, "bounds": "flush"
},
{
"width": 960, "height": 23,
"view": {"fill": "#ffffff", "stroke": null},
"data": {"values": [{"c": 19.798, "r": 28.463, "t": "11"}]},
"mark": {"type": "text", "align": "right", "baseline": "alphabetic", "fontSize": 14, "color": "#1a1a1a"},
"encoding": {
"x": {"field": "c", "type": "quantitative", "scale": {"domain": [-0.0217, 20.848], "nice": false, "zero": false}, "axis": null},
"y": {"field": "r", "type": "quantitative", "scale": {"domain": [28.0, 28.5], "reverse": true, "nice": false, "zero": false}, "axis": null},
"text": {"field": "t"}
}
}
]
}
